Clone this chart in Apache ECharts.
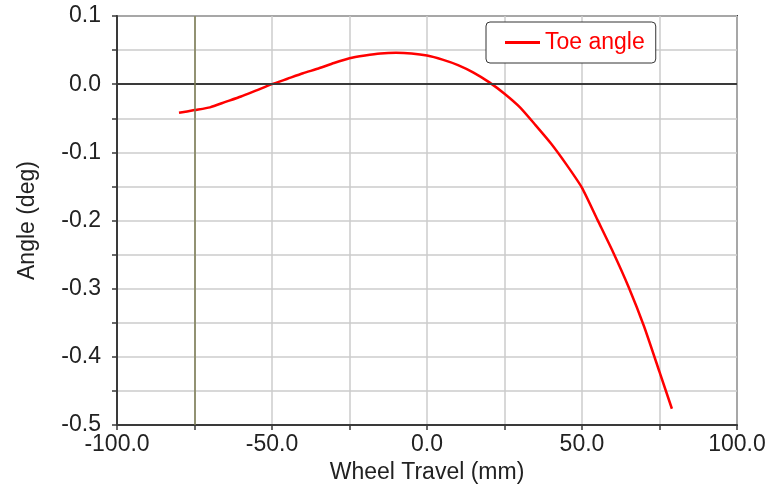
<!DOCTYPE html>
<html>
<head>
<meta charset="utf-8">
<script src="https://cdn.jsdelivr.net/npm/echarts@6/dist/echarts.min.js"></script>
<style>
  html, body { margin: 0; padding: 0; background: #fff; }
  #chart { width: 779px; height: 489px; }
</style>
</head>
<body>
<div id="chart"></div>
<script>
// wheel travel (mm) and toe angle (deg)
const travel = [-80, -75, -70, -65, -60, -55, -50, -45, -40, -35, -30, -25, -20, -15, -10, -5,
  0, 5, 10, 15, 20, 25, 30, 35, 40, 45, 50, 55, 60, 65, 70, 75, 79];
const toeAngle = [-0.042, -0.038, -0.034, -0.026, -0.018, -0.009, 0.000, 0.008, 0.016, 0.023,
  0.031, 0.038, 0.042, 0.045, 0.046, 0.045, 0.042, 0.036, 0.028, 0.017, 0.003, -0.014,
  -0.034, -0.060, -0.087, -0.118, -0.152, -0.199, -0.246, -0.297, -0.355, -0.422, -0.476];
const markerTravel = -75;

const font = "'Liberation Sans', Arial, sans-serif";
const txt = '#222';

let myChart = echarts.init(document.getElementById('chart'));
let option = {
  animation: false,
  textStyle: { fontFamily: font },
  grid: {
    left: 117, right: 42, top: 16, bottom: 61,
    show: true, borderColor: '#3a3a3a', borderWidth: 2
  },
  legend: {
    left: 486, top: 22,
    padding: [9, 11, 9, 19],
    backgroundColor: '#fff',
    borderColor: '#333',
    borderWidth: 1,
    borderRadius: 4,
    icon: 'rect',
    itemWidth: 35,
    itemHeight: 3,
    textStyle: { color: '#ff0000', fontSize: 23, fontFamily: font },
    data: ['Toe angle']
  },
  xAxis: {
    type: 'value',
    min: -100, max: 100, interval: 50,
    name: 'Wheel Travel (mm)',
    nameLocation: 'middle',
    nameGap: 22,
    nameTextStyle: { color: txt, fontSize: 23, fontFamily: font },
    axisLine: { onZero: false, lineStyle: { color: '#3a3a3a', width: 2 } },
    axisTick: { show: true, length: 5, lineStyle: { color: '#3a3a3a', width: 1.5 } },
    minorTick: { show: true, splitNumber: 2, length: 5, lineStyle: { color: '#3a3a3a', width: 1.5 } },
    splitLine: { show: true, lineStyle: { color: '#cccccc', width: 1.5 } },
    minorSplitLine: { show: true, lineStyle: { color: '#cccccc', width: 1.5 } },
    axisLabel: {
      color: txt, fontSize: 23, fontFamily: font, margin: 8,
      formatter: v => (Math.abs(v) < 1e-9 ? 0 : v).toFixed(1)
    }
  },
  yAxis: {
    type: 'value',
    min: -0.5, max: 0.1, interval: 0.1,
    name: 'Angle (deg)',
    nameLocation: 'middle',
    nameGap: 78,
    nameTextStyle: { color: txt, fontSize: 23, fontFamily: font },
    axisLine: { show: true, onZero: false, lineStyle: { color: '#3a3a3a', width: 2 } },
    axisTick: { show: true, length: 5, lineStyle: { color: '#3a3a3a', width: 1.5 } },
    minorTick: { show: true, splitNumber: 2, length: 5, lineStyle: { color: '#3a3a3a', width: 1.5 } },
    splitLine: { show: true, lineStyle: { color: '#cccccc', width: 1.5 } },
    minorSplitLine: { show: true, lineStyle: { color: '#cccccc', width: 1.5 } },
    axisLabel: {
      color: txt, fontSize: 23, fontFamily: font, margin: 16,
      formatter: v => (Math.abs(v) < 1e-9 ? 0 : v).toFixed(1)
    }
  },
  series: [
    {
      name: 'Toe angle',
      type: 'line',
      symbol: 'none',
      smooth: 0.2,
      data: travel.map((x, i) => [x, toeAngle[i]]),
      lineStyle: { color: '#ff0000', width: 2.5 },
      itemStyle: { color: '#ff0000' },
      markLine: {
        silent: true,
        symbol: 'none',
        label: { show: false },
        data: [
          { yAxis: 0, lineStyle: { color: '#3a3a3a', width: 2, type: 'solid' } },
          { xAxis: markerTravel, lineStyle: { color: '#7b7b52', width: 1.5, type: 'solid' } }
        ]
      }
    }
  ]
};
option && myChart.setOption(option);
</script>
</body>
</html>
